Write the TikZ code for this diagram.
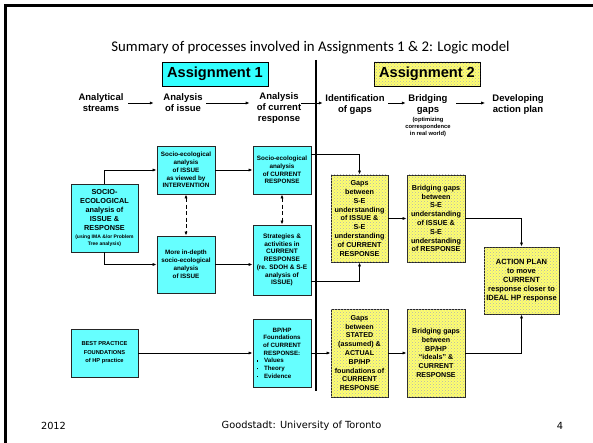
\documentclass[tikz,border=0pt]{standalone}
\usepackage{fontspec}
\setmainfont{Liberation Sans}
\newfontfamily\carlito{Carlito}
\newfontfamily\dejavu{DejaVu Sans}
\usetikzlibrary{arrows.meta,patterns}
\definecolor{boxcyan}{RGB}{102,255,255}
\definecolor{titlecyan}{RGB}{51,255,255}
\definecolor{boxyellow}{RGB}{255,255,110}
\newcommand{\fs}[2]{\fontsize{#1}{#2}\selectfont\bfseries}
\newcommand{\sq}{\raisebox{1.2pt}{\rule{1.6pt}{1.6pt}}}
\begin{document}
\begin{tikzpicture}[x=1pt,y=-1pt,
  arr/.style={-{Latex[length=4pt,width=3.2pt]}, line width=0.8pt},
  dbl/.style={{Latex[length=4pt,width=3.2pt]}-{Latex[length=4pt,width=3.2pt]}, dash pattern=on 4pt off 2.5pt, line width=0.8pt},
  cbox/.style={draw=black!85, line width=0.9pt, fill=boxcyan, align=center, inner sep=0pt},
  ybox/.style={draw=black!85, line width=0.9pt, fill=boxyellow, postaction={pattern=crosshatch dots, pattern color=black!30}, align=center, inner sep=0pt},
  head/.style={align=center, inner sep=0pt, font=\fs{9.5}{11}},
  foot/.style={inner sep=0pt, font=\dejavu\fontsize{9.8}{11}\selectfont}]
\useasboundingbox (0,0) rectangle (593,443);
% frame
\draw[line width=2.8pt] (5.7,443) -- (5.7,5.3) -- (593,5.3);
% title
\node[inner sep=0pt, font=\carlito\fontsize{14.8}{16}\selectfont] (title) at (310.5,48) {Summary of processes involved in Assignments 1 \& 2: Logic model};
% assignment boxes
\node[draw=black, line width=0.9pt, fill=titlecyan, minimum width=106pt, minimum height=24pt, inner sep=0pt, font=\fs{14.6}{16}] (as1) at (215,74) {Assignment 1};
\node[draw=black, line width=0.9pt, fill=boxyellow, postaction={pattern=crosshatch dots, pattern color=black!30}, minimum width=106pt, minimum height=24pt, inner sep=0pt, font=\fs{14.6}{16}] (as2) at (427,74) {Assignment 2};
% divider
\coordinate (vt) at (316,60);
\coordinate (vb) at (316,391);
\draw[line width=1.5pt] (vt) -- (vb);
% headers
\node[head] (h1) at (101,102.5) {Analytical\\streams};
\node[head] (h2) at (183,102.5) {Analysis\\of issue};
\node[head] (h3) at (279,108.5) {Analysis\\of current\\response};
\node[head] (h4) at (355,104.5) {Identification\\of gaps};
\node[head] (h5) at (428,104.5) {Bridging\\gaps};
\node[align=center, inner sep=0pt, font=\fs{5.8}{7}] (h5s) at (428,127) {(optimizing\\correspondence\\in real world)};
\node[head] (h6) at (518,104.5) {Developing\\action plan};
\draw[arr, shorten <=4.5pt, shorten >=9.5pt] (h1.east |- 0,103) -- (h2.west |- 0,103);
\draw[arr, shorten <=3.5pt, shorten >=7pt] (h2.east |- 0,103) -- (h3.west |- 0,103);
\draw[arr, shorten <=0pt, shorten >=2.5pt] (h3.east |- 0,103) -- (h4.west |- 0,103);
\draw[arr, shorten <=3.5pt, shorten >=2.5pt] (h4.east |- 0,103) -- (h5.west |- 0,103);
\draw[arr, shorten <=8.5pt, shorten >=7pt] (h5.east |- 0,103) -- (h6.west |- 0,103);
% boxes
\node[cbox, minimum width=67pt, minimum height=68pt, font=\fs{7.3}{9}] (L) at (104.5,218)
 {SOCIO-\\ECOLOGICAL\\analysis of\\ISSUE \&\\RESPONSE\\[-1pt]{\fs{5}{7}(using IMA \&/or Problem}\\[-2pt]{\fs{5}{7}Tree analysis)}};
\node[cbox, minimum width=58pt, minimum height=48pt, font=\fs{6.3}{7.8}] (SE1) at (186,170)
 {Socio-ecological\\analysis\\of ISSUE\\as viewed by\\INTERVENTION};
\node[cbox, minimum width=58pt, minimum height=57pt, font=\fs{6.3}{8}] (MD) at (186,264.5)
 {More in-depth\\socio-ecological\\analysis\\of ISSUE};
\node[cbox, minimum width=58pt, minimum height=48pt, font=\fs{6.3}{7.7}] (SC) at (282,170)
 {Socio-ecological\\analysis\\of CURRENT\\RESPONSE};
\node[cbox, minimum width=58pt, minimum height=70pt, font=\fs{6.5}{7.7}] (ST) at (282,260)
 {Strategies \&\\activities in\\CURRENT\\RESPONSE\\(re. SDOH \& S-E\\analysis of\\ISSUE)};
\node[ybox, minimum width=57pt, minimum height=87pt, font=\fs{7.2}{8.8}] (G1) at (359.5,218.5)
 {Gaps\\between\\S-E\\understanding\\of ISSUE \&\\S-E\\understanding\\of CURRENT\\RESPONSE};
\node[ybox, minimum width=58pt, minimum height=87pt, font=\fs{7.2}{8.8}] (B1) at (436,218.5)
 {Bridging gaps\\between\\S-E\\understanding\\of ISSUE \&\\S-E\\understanding\\of RESPONSE};
\node[ybox, minimum width=75pt, minimum height=67pt, font=\fs{7.5}{9}] (A) at (521.5,280.5)
 {ACTION PLAN\\to move\\CURRENT\\response closer to\\IDEAL HP response};
\node[cbox, minimum width=67pt, minimum height=48pt, font=\fs{5.7}{8.5}] (BP) at (104.5,353)
 {BEST PRACTICE\\FOUNDATIONS\\of HP practice};
\node[cbox, minimum width=58pt, minimum height=68pt, font=\fs{6.2}{7.7}] (BH) at (282,353)
 {BP/HP\\Foundations\\of CURRENT\\RESPONSE:\\\makebox[56pt][l]{\hspace{2.5pt}\sq\hspace{6pt}Values}\\\makebox[56pt][l]{\hspace{2.5pt}\sq\hspace{6pt}Theory}\\\makebox[56pt][l]{\hspace{2.5pt}\sq\hspace{6pt}Evidence}};
\node[ybox, minimum width=57pt, minimum height=88pt, font=\fs{7.1}{8.8}] (G2) at (359.5,353)
 {Gaps\\between\\STATED\\(assumed) \&\\ACTUAL\\BP/HP\\foundations of\\CURRENT\\RESPONSE};
\node[ybox, minimum width=58pt, minimum height=88pt, font=\fs{7.1}{8.8}] (B2) at (436,353)
 {Bridging gaps\\between\\BP/HP\\“ideals” \&\\CURRENT\\RESPONSE};
% connectors
\draw[arr] (L.north) |- (SE1.west);
\draw[arr] (L.south) |- (MD.west);
\draw[arr] (SE1.east) -- (SC.west);
\draw[arr] (MD.east) -- (MD.east -| ST.west);
\draw[dbl] (SE1.south) -- (MD.north);
\draw[dbl] (SC.south) -- (ST.north);
\draw[arr] ([yshift=-9pt]SC.north east) -| (G1.north);
\draw[arr] ([yshift=14pt]ST.south east) -| (G1.south);
\draw[arr] (G1.east) -- (B1.west);
\draw[arr] (B1.east) -| (A.north);
\draw[arr] (BP.east) -- (BH.west);
\draw[arr] (BH.east) -- (G2.west);
\draw[arr] (G2.east) -- (B2.west);
\draw[arr] (B2.east) -| (A.south);
% footer
\node[foot] (f1) at (53.5,426) {2012};
\node[foot] (f2) at (301.5,426) {Goodstadt: University of Toronto};
\node[foot] (f3) at (560,426) {4};
\end{tikzpicture}
\end{document}
